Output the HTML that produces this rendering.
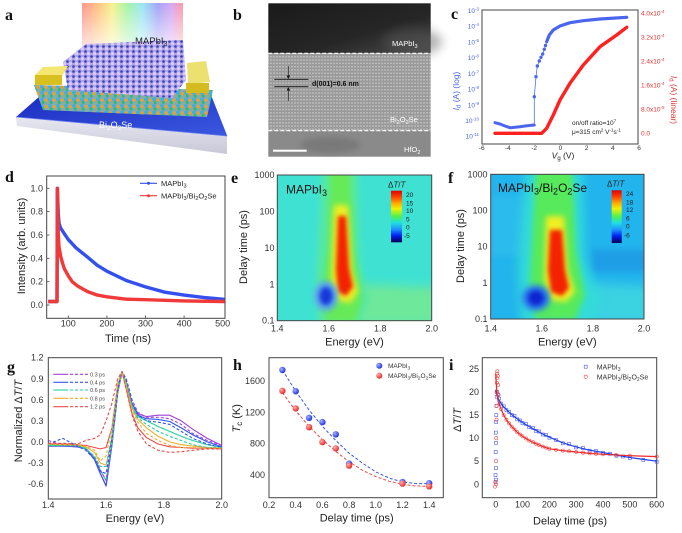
<!DOCTYPE html>
<html><head><meta charset="utf-8"><style>
html,body{margin:0;padding:0;background:#fff;}
svg{display:block;font-family:"Liberation Sans",Arial,sans-serif;}
.lt{font-family:"Liberation Serif",serif;font-weight:bold;font-size:16px;fill:#111;}
.tk{font-size:9px;fill:#333;}
.ti{font-size:11px;fill:#222;}
.fr{fill:none;stroke:#444;stroke-width:1;}
</style></head><body>
<svg width="682" height="533" viewBox="0 0 682 533" xmlns="http://www.w3.org/2000/svg">
<defs>
<linearGradient id="rain" x1="0" y1="0" x2="1" y2="0">
<stop offset="0" stop-color="#ff7a70"/><stop offset="0.15" stop-color="#ffb060"/><stop offset="0.3" stop-color="#f4ee70"/><stop offset="0.45" stop-color="#90f090"/><stop offset="0.6" stop-color="#80e0f0"/><stop offset="0.75" stop-color="#8c8cf4"/><stop offset="0.88" stop-color="#c890f0"/><stop offset="1" stop-color="#ff8090"/></linearGradient>
<linearGradient id="fade" x1="0" y1="0" x2="0" y2="1"><stop offset="0" stop-color="#fff" stop-opacity="0.2"/><stop offset="1" stop-color="#fff" stop-opacity="1"/></linearGradient>
<linearGradient id="blueface" x1="0" y1="0" x2="1" y2="1"><stop offset="0" stop-color="#1c2cc0"/><stop offset="1" stop-color="#3a58e0"/></linearGradient>
<linearGradient id="slab" x1="0" y1="0" x2="0" y2="1"><stop offset="0" stop-color="#e8e8f2"/><stop offset="1" stop-color="#c8c8d8"/></linearGradient>
<pattern id="bos" width="8" height="6.5" patternUnits="userSpaceOnUse"><circle cx="2" cy="1.8" r="1.8" fill="#2eb4f2"/><circle cx="6" cy="2.6" r="1.7" fill="#f0a020"/><circle cx="3.2" cy="5" r="1.5" fill="#1cc07a"/></pattern>
<pattern id="pvk" width="6" height="5" patternUnits="userSpaceOnUse"><circle cx="1.5" cy="1.5" r="1.3" fill="#3040c0"/><circle cx="4.5" cy="3.6" r="1.6" fill="#dcc8fa"/></pattern>
<pattern id="lat" width="3" height="3.3" patternUnits="userSpaceOnUse"><rect width="3" height="3.3" fill="#9a9a9a"/><rect width="2" height="1.3" fill="#bebebe"/></pattern>
<linearGradient id="temtop" x1="0" y1="0" x2="1" y2="1"><stop offset="0" stop-color="#1a1a1a"/><stop offset="0.6" stop-color="#262626"/><stop offset="1" stop-color="#4a4a4a"/></linearGradient>
<linearGradient id="jet" x1="0" y1="0" x2="0" y2="1">
<stop offset="0" stop-color="#e00000"/><stop offset="0.12" stop-color="#ff4000"/><stop offset="0.25" stop-color="#ffb000"/><stop offset="0.35" stop-color="#f0f000"/><stop offset="0.5" stop-color="#50f050"/><stop offset="0.62" stop-color="#20e0e0"/><stop offset="0.75" stop-color="#2090ff"/><stop offset="0.87" stop-color="#0020f0"/><stop offset="1" stop-color="#000050"/></linearGradient>
<radialGradient id="sb" cx="0.35" cy="0.35" r="0.7"><stop offset="0" stop-color="#a8b4ff"/><stop offset="1" stop-color="#1828e0"/></radialGradient>
<radialGradient id="sr" cx="0.35" cy="0.35" r="0.7"><stop offset="0" stop-color="#ffb0b0"/><stop offset="1" stop-color="#e82020"/></radialGradient>
<filter id="b2" x="-50%" y="-50%" width="200%" height="200%"><feGaussianBlur stdDeviation="2.2"/></filter>
<filter id="b3" x="-50%" y="-50%" width="200%" height="200%"><feGaussianBlur stdDeviation="3"/></filter>
<filter id="b5" x="-50%" y="-50%" width="200%" height="200%"><feGaussianBlur stdDeviation="5"/></filter>
<clipPath id="ce"><rect x="277.3" y="175" width="154.4" height="145.7"/></clipPath>
<clipPath id="cf"><rect x="490.7" y="174.3" width="153.3" height="144.7"/></clipPath>
</defs>
<rect width="682" height="533" fill="#fff"/>

<!-- ===== Panel a ===== -->
<text class="lt" x="5" y="20">a</text>
<rect x="82" y="3" width="101" height="60" fill="url(#rain)"/>
<rect x="82" y="3" width="101" height="60" fill="url(#fade)"/>
<polygon points="16,117 227,136 227,154 17,126" fill="url(#slab)"/>
<polygon points="16,117 40,96 210.7,94.3 227.3,136" fill="url(#blueface)"/>
<line x1="16" y1="117" x2="227" y2="136" stroke="#6a80f0" stroke-width="0.8"/>
<polygon points="34,85 213,90 207,117 43,110" fill="#8ca8a8"/>
<polygon points="34,85 213,90 207,117 43,110" fill="url(#bos)"/>
<polygon points="63,62 86,44 183,40 186,80 172,98 68,90" fill="#b0a6e6"/>
<polygon points="63,62 86,44 183,40 186,80 172,98 68,90" fill="url(#pvk)"/>
<polygon points="35,75 43,67 68,66 62,76" fill="#f4e670"/>
<rect x="35" y="75" width="27" height="10" fill="#d8c020"/>
<polygon points="187,63 206,61 210,82 188,84" fill="#ece070"/>
<rect x="186" y="83" width="23" height="10" fill="#d4bc20"/>
<text x="135" y="44" font-size="9.5" fill="#222">MAPbI<tspan font-size="7" dy="2">3</tspan></text>
<text x="99" y="128" font-size="9" fill="#fff">Bi<tspan font-size="6.5" dy="2">2</tspan><tspan dy="-2">O</tspan><tspan font-size="6.5" dy="2">2</tspan><tspan dy="-2">Se</tspan></text>

<!-- ===== Panel b ===== -->
<text class="lt" x="233" y="20">b</text>
<rect x="268.3" y="3.3" width="162.4" height="50" fill="url(#temtop)"/>
<ellipse cx="412" cy="42" rx="30" ry="14" fill="#5a5a5a" opacity="0.45" filter="url(#b5)"/>
<rect x="268.3" y="53.3" width="162.4" height="77.4" fill="url(#lat)"/>
<rect x="268.3" y="130.7" width="162.4" height="26" fill="#8a8a8a"/>
<ellipse cx="330" cy="145" rx="30" ry="8" fill="#6e6e6e" opacity="0.6" filter="url(#b3)"/>
<line x1="268.3" y1="53.3" x2="430.7" y2="53.3" stroke="#fff" stroke-width="1.2" stroke-dasharray="4,2"/>
<line x1="268.3" y1="130.7" x2="430.7" y2="130.7" stroke="#fff" stroke-width="1.2" stroke-dasharray="4,2"/>
<line x1="274.3" y1="79.3" x2="308.3" y2="79.3" stroke="#111" stroke-width="0.9"/>
<line x1="274.3" y1="86.7" x2="308.3" y2="86.7" stroke="#111" stroke-width="0.9"/>
<line x1="288.3" y1="66" x2="288.3" y2="77" stroke="#111" stroke-width="0.6"/>
<polygon points="286.5,75.5 290.1,75.5 288.3,79" fill="#111"/>
<line x1="288.3" y1="89" x2="288.3" y2="101" stroke="#111" stroke-width="0.6"/>
<polygon points="286.5,90.5 290.1,90.5 288.3,87" fill="#111"/>
<text x="312" y="86" font-size="7" fill="#111" font-weight="bold">d(001)=0.6 nm</text>
<text x="392" y="46" font-size="7.5" fill="#fff">MAPbI<tspan font-size="5.5" dy="2">3</tspan></text>
<text x="390" y="122" font-size="7.5" fill="#fff">Bi<tspan font-size="5.5" dy="2">2</tspan><tspan dy="-2">O</tspan><tspan font-size="5.5" dy="2">2</tspan><tspan dy="-2">Se</tspan></text>
<text x="404" y="152" font-size="7.5" fill="#fff">HfO<tspan font-size="5.5" dy="2">2</tspan></text>
<rect x="273" y="149.7" width="33.7" height="2" fill="#fff"/>

<!-- ===== Panel c ===== -->
<text class="lt" x="451" y="19">c</text>
<rect class="fr" x="482" y="10" width="156" height="134"/>
<g font-size="6.5" fill="#4a66e8" text-anchor="end">
<text x="479" y="13">10<tspan font-size="4.5" dy="-2.5">-3</tspan></text>
<text x="479" y="28.7">10<tspan font-size="4.5" dy="-2.5">-4</tspan></text>
<text x="479" y="44.4">10<tspan font-size="4.5" dy="-2.5">-5</tspan></text>
<text x="479" y="60.2">10<tspan font-size="4.5" dy="-2.5">-6</tspan></text>
<text x="479" y="75.9">10<tspan font-size="4.5" dy="-2.5">-7</tspan></text>
<text x="479" y="91.6">10<tspan font-size="4.5" dy="-2.5">-8</tspan></text>
<text x="479" y="107.3">10<tspan font-size="4.5" dy="-2.5">-9</tspan></text>
<text x="479" y="123">10<tspan font-size="4.5" dy="-2.5">-10</tspan></text>
<text x="479" y="138.7">10<tspan font-size="4.5" dy="-2.5">-11</tspan></text>
</g>
<g font-size="6.5" fill="#ee3030">
<text x="641" y="15.5">4.0x10<tspan font-size="4.5" dy="-2.5">-4</tspan></text>
<text x="641" y="39.5">3.2x10<tspan font-size="4.5" dy="-2.5">-4</tspan></text>
<text x="641" y="63.5">2.4x10<tspan font-size="4.5" dy="-2.5">-4</tspan></text>
<text x="641" y="87.5">1.6x10<tspan font-size="4.5" dy="-2.5">-4</tspan></text>
<text x="641" y="111.5">8.0x10<tspan font-size="4.5" dy="-2.5">-5</tspan></text>
<text x="641" y="135.5">0.0</text>
</g>
<g font-size="6.5" fill="#333" text-anchor="middle">
<text x="481.7" y="150">-6</text><text x="507.9" y="150">-4</text><text x="534.1" y="150">-2</text><text x="560.4" y="150">0</text><text x="586.6" y="150">2</text><text x="612.8" y="150">4</text><text x="639" y="150">6</text>
</g>
<text x="563" y="158.5" font-size="8.5" fill="#222" text-anchor="middle"><tspan font-style="italic">V</tspan><tspan font-size="6" dy="1.5">g</tspan><tspan dy="-1.5"> (V)</tspan></text>
<text transform="translate(459,91) rotate(-90)" text-anchor="middle" font-size="8.5" fill="#4a66e8"><tspan font-style="italic">I</tspan><tspan font-size="6" dy="1.5">d</tspan><tspan dy="-1.5"> (A) (log)</tspan></text>
<text transform="translate(671,100) rotate(90)" text-anchor="middle" font-size="8.5" fill="#ee3030"><tspan font-style="italic">I</tspan><tspan font-size="6" dy="1.5">d</tspan><tspan dy="-1.5"> (A) (linear)</tspan></text>
<polyline points="495,133.3 541.7,133.3 546.7,128.3 553.3,115 560,100 570,83.3 583.3,65 600,46.7 616.7,35 626.7,27.3" fill="none" stroke="#ff2020" stroke-width="3.4" stroke-linejoin="round" stroke-linecap="round"/>
<polyline points="495,122.7 500,124 505,126 510,127.7 515,127.3 520,126.7 525,126 531.7,125.3 534.3,125 534.3,96.7 536,76.7 537.3,66 539.3,61 541,57.3 542.7,54 544.3,49.3 546.7,41.7 549.3,35 553.3,30 560,26 570,22.7 583.3,20.7 600,19 626.7,17.3" fill="none" stroke="#5070f0" stroke-width="0.8"/>
<polyline points="495,122.7 500,124 505,126 510,127.7 515,127.3 520,126.7 525,126 531.7,125.3 534.3,125" fill="none" stroke="#4a66ee" stroke-width="3" stroke-linejoin="round" stroke-linecap="round"/>
<polyline points="546.7,41.7 549.3,35 553.3,30 560,26 570,22.7 583.3,20.7 600,19 626.7,17.3" fill="none" stroke="#4a66ee" stroke-width="3.2" stroke-linejoin="round" stroke-linecap="round"/>
<g fill="#4a66ee"><circle cx="534.3" cy="96.7" r="1.7"/><circle cx="536" cy="76.7" r="1.7"/><circle cx="537.3" cy="66" r="1.7"/><circle cx="539.3" cy="61" r="1.7"/><circle cx="541" cy="57.3" r="1.7"/><circle cx="542.7" cy="54" r="1.7"/><circle cx="544.3" cy="49.3" r="1.7"/><circle cx="545.5" cy="45.5" r="1.7"/></g>
<text x="572" y="125" font-size="6.5" fill="#222">on/off ratio=10<tspan font-size="4.5" dy="-2.5">7</tspan></text>
<text x="572" y="134" font-size="6.5" fill="#222">μ=315 cm<tspan font-size="4.5" dy="-2.5">2</tspan><tspan dy="2.5"> V</tspan><tspan font-size="4.5" dy="-2.5">-1</tspan><tspan dy="2.5">s</tspan><tspan font-size="4.5" dy="-2.5">-1</tspan></text>

<!-- ===== Panel d ===== -->
<text class="lt" x="5" y="182">d</text>
<rect class="fr" x="46.7" y="176" width="178.3" height="142.3"/>
<g class="tk" text-anchor="end">
<text x="43" y="308">0.0</text><text x="43" y="284.7">0.2</text><text x="43" y="261.3">0.4</text><text x="43" y="238">0.6</text><text x="43" y="214.6">0.8</text><text x="43" y="191.3">1.0</text>
</g>
<g class="tk" text-anchor="middle">
<text x="68.3" y="326.5">100</text><text x="106.9" y="326.5">200</text><text x="145.5" y="326.5">300</text><text x="184.1" y="326.5">400</text><text x="222.7" y="326.5">500</text>
</g>
<g stroke="#444" stroke-width="0.8">
<line x1="68.3" y1="318.3" x2="68.3" y2="315.5"/><line x1="106.9" y1="318.3" x2="106.9" y2="315.5"/><line x1="145.5" y1="318.3" x2="145.5" y2="315.5"/><line x1="184.1" y1="318.3" x2="184.1" y2="315.5"/>
<line x1="46.7" y1="305" x2="49.5" y2="305"/><line x1="46.7" y1="281.7" x2="49.5" y2="281.7"/><line x1="46.7" y1="258.3" x2="49.5" y2="258.3"/><line x1="46.7" y1="235" x2="49.5" y2="235"/><line x1="46.7" y1="211.6" x2="49.5" y2="211.6"/><line x1="46.7" y1="188.3" x2="49.5" y2="188.3"/>
</g>
<text class="ti" x="128" y="342" text-anchor="middle">Time (ns)</text>
<text class="ti" transform="translate(25,246) rotate(-90)" text-anchor="middle">Intensity (arb. units)</text>
<polyline points="48.2,301.5 57,301.5 57.3,188.3 57.9,202.3 58.3,214 59,223.3 60.6,228 64.4,233.8 68.3,239.6 76,247.8 87.6,257.2 97.3,265.3 106.9,271.2 126.2,280.5 145.5,286.9 164.8,292.2 184.1,295.1 203.4,297.4 222.7,299.2 224.6,299.4" fill="none" stroke="#3350ee" stroke-width="3.4" stroke-linejoin="round"/>
<polyline points="48.2,301.5 57,301.5 57.5,188.3 57.9,217.5 58.3,235 59,246.7 60.6,256 62.5,263 64.4,268.8 68.3,275.8 72.2,281.7 78,286.3 87.6,291.6 97.3,295.1 106.9,296.8 126.2,299.2 145.5,299.7 184.1,300.9 222.7,301.5 224.6,301.5" fill="none" stroke="#f03a3a" stroke-width="3.4" stroke-linejoin="round"/>
<line x1="140" y1="183.3" x2="157" y2="183.3" stroke="#3350ee" stroke-width="1.2"/><circle cx="148.5" cy="183.3" r="1.5" fill="#3350ee"/>
<line x1="140" y1="195.7" x2="157" y2="195.7" stroke="#f03a3a" stroke-width="1.2"/><circle cx="148.5" cy="195.7" r="1.5" fill="#f03a3a"/>
<text x="161" y="186" font-size="7.5" fill="#222">MAPbI<tspan font-size="5.5" dy="1.5">3</tspan></text>
<text x="161" y="198.4" font-size="7.5" fill="#222">MAPbI<tspan font-size="5.5" dy="1.5">3</tspan><tspan dy="-1.5">/Bi</tspan><tspan font-size="5.5" dy="1.5">2</tspan><tspan dy="-1.5">O</tspan><tspan font-size="5.5" dy="1.5">2</tspan><tspan dy="-1.5">Se</tspan></text>

<!-- ===== Panel e ===== -->
<text class="lt" x="231" y="183">e</text>
<g clip-path="url(#ce)">
<rect x="277.3" y="175" width="154.4" height="145.7" fill="#3fe2d2"/>
<polygon points="345,284 440,288 440,325 345,325" fill="#6ee89a" filter="url(#b5)"/>
<polygon points="322,170 358,170 360,260 368,300 360,325 318,325 316,280" fill="#55e8a4" filter="url(#b3)"/>
<polygon points="330,170 350,170 354,250 362,300 356,322 326,322 322,290 328,250" fill="#66ea58" filter="url(#b3)"/>
<polygon points="334,205 348,205 352,270 358,292 350,303 336,300 331,285" fill="#f0ee20" filter="url(#b3)"/>
<polygon points="338,216 346,216 349,268 353,287 346,296 338,292 336,270" fill="#f42400" filter="url(#b2)"/>
<ellipse cx="326" cy="296" rx="12" ry="15" fill="#5aa4f2" filter="url(#b3)"/>
<ellipse cx="326" cy="296" rx="6.5" ry="9" fill="#1438d8" filter="url(#b2)"/>
</g>
<rect class="fr" x="277.3" y="175" width="154.4" height="145.7"/>
<rect x="391" y="190.7" width="11" height="51.6" fill="url(#jet)"/>
<text x="388" y="187.5" font-size="8" fill="#222">Δ<tspan font-style="italic">T</tspan>/<tspan font-style="italic">T</tspan></text>
<g font-size="6.5" fill="#222">
<text x="406" y="197">20</text><text x="406" y="205.3">15</text><text x="406" y="213">10</text><text x="406" y="221.3">5</text><text x="406" y="229.6">0</text><text x="404" y="238">-5</text>
</g>
<text x="286" y="193.5" font-size="12" fill="#111">MAPbI<tspan font-size="9" dy="2.5">3</tspan></text>
<g class="tk" text-anchor="end">
<text x="274.5" y="178">1000</text><text x="274.5" y="214.4">100</text><text x="274.5" y="250.8">10</text><text x="274.5" y="287.3">1</text><text x="274.5" y="323.7">0.1</text>
</g>
<g class="tk" text-anchor="middle">
<text x="277.3" y="331.5">1.4</text><text x="328.8" y="331.5">1.6</text><text x="380.2" y="331.5">1.8</text><text x="431.7" y="331.5">2.0</text>
</g>
<text class="ti" x="354.5" y="345.5" text-anchor="middle">Energy (eV)</text>
<text class="ti" transform="translate(247,247) rotate(-90)" text-anchor="middle">Delay time (ps)</text>

<!-- ===== Panel f ===== -->
<text class="lt" x="448" y="183">f</text>
<g clip-path="url(#cf)">
<rect x="490.7" y="174.3" width="153.3" height="144.7" fill="#22b4ec"/>
<rect x="492" y="196" width="38" height="60" fill="#3cc6f0" opacity="0.4" filter="url(#b3)"/>
<rect x="592" y="250" width="60" height="22" fill="#1a90e2" opacity="0.6" filter="url(#b3)"/>
<polygon points="560,282 650,286 650,325 560,325" fill="#3ad2e2" filter="url(#b5)"/>
<polygon points="526,170 582,170 585,260 600,300 590,325 522,325 518,270" fill="#32dcd8" filter="url(#b5)"/>
<polygon points="536,170 572,170 576,250 585,295 575,320 535,320 530,280" fill="#56ea5c" filter="url(#b3)"/>
<polygon points="546,216 564,216 568,270 575,292 566,302 550,300 544,280" fill="#f0ee20" filter="url(#b3)"/>
<polygon points="550,230 562,230 565,270 569,288 562,296 551,292 548,270" fill="#f42400" filter="url(#b2)"/>
<ellipse cx="536" cy="298" rx="14" ry="13" fill="#2a78f0" filter="url(#b3)"/>
<ellipse cx="536" cy="298" rx="8" ry="7.5" fill="#0a28d0" filter="url(#b2)"/>
</g>
<rect class="fr" x="490.7" y="174.3" width="153.3" height="144.7"/>
<rect x="611.7" y="190.3" width="10" height="52.7" fill="url(#jet)"/>
<text x="607" y="186.5" font-size="8" fill="#222">Δ<tspan font-style="italic">T</tspan>/<tspan font-style="italic">T</tspan></text>
<g font-size="6.5" fill="#222">
<text x="626" y="196">24</text><text x="626" y="204.3">18</text><text x="626" y="212">12</text><text x="626" y="220.6">6</text><text x="626" y="228.6">0</text><text x="624" y="237.3">-6</text>
</g>
<text x="498" y="192" font-size="12" fill="#111">MAPbI<tspan font-size="9" dy="2.5">3</tspan><tspan dy="-2.5">/Bi</tspan><tspan font-size="9" dy="2.5">2</tspan><tspan dy="-2.5">O</tspan><tspan font-size="9" dy="2.5">2</tspan><tspan dy="-2.5">Se</tspan></text>
<g class="tk" text-anchor="end">
<text x="487.5" y="177.3">1000</text><text x="487.5" y="213.5">100</text><text x="487.5" y="249.6">10</text><text x="487.5" y="285.8">1</text><text x="487.5" y="322">0.1</text>
</g>
<g class="tk" text-anchor="middle">
<text x="490.7" y="331.5">1.4</text><text x="541.8" y="331.5">1.6</text><text x="592.9" y="331.5">1.8</text><text x="644" y="331.5">2.0</text>
</g>
<text class="ti" x="567.3" y="345.5" text-anchor="middle">Energy (eV)</text>
<text class="ti" transform="translate(464,246) rotate(-90)" text-anchor="middle">Delay time (ps)</text>

<!-- ===== Panel g ===== -->
<text class="lt" x="7" y="372">g</text>
<rect class="fr" x="48.3" y="357.7" width="173.4" height="141.3"/>
<g class="tk" text-anchor="end">
<text x="43.5" y="360.7">1.2</text><text x="43.5" y="381.8">0.9</text><text x="43.5" y="402.8">0.6</text><text x="43.5" y="423.8">0.3</text><text x="43.5" y="444.9">0.0</text><text x="43.5" y="466">-0.3</text><text x="43.5" y="487">-0.6</text>
</g>
<g class="tk" text-anchor="middle">
<text x="48.3" y="508">1.4</text><text x="106.1" y="508">1.6</text><text x="163.9" y="508">1.8</text><text x="221.7" y="508">2.0</text>
</g>
<text class="ti" x="135" y="522" text-anchor="middle">Energy (eV)</text>
<text class="ti" transform="translate(22,421) rotate(-90)" text-anchor="middle">Normalized Δ<tspan font-style="italic">T</tspan>/<tspan font-style="italic">T</tspan></text>
<g fill="none" stroke-width="1.1" stroke-linejoin="round">
<polyline stroke="#a040dc" points="48.3,446.1 62.8,446.1 77.2,446.8 85.9,448.9 94.5,459.5 100.3,473.5 106.1,485.4 111.9,445.4 117.7,392.8 122,371.7 126.3,382.2 132.1,403.3 137.9,413.8 146.6,416.6 158.1,415.2 169.7,415.2 181.2,420.8 192.8,429.3 207.3,438.4 221.7,445.4"/>
<polyline stroke="#3355ee" points="48.3,446.1 62.8,446.1 77.2,446.8 85.9,448.9 94.5,459.5 100.3,473.5 106.1,486.1 111.9,445.4 117.7,392.8 122,371.7 126.3,382.9 132.1,404.7 137.9,415.2 146.6,418.7 158.1,419.4 169.7,421.5 181.2,427.9 192.8,434.9 207.3,441.9 221.7,446.8"/>
<polyline stroke="#26d0a0" points="48.3,445.4 62.8,445.4 77.2,446.1 85.9,448.2 94.5,457.3 100.3,470 106.1,480.5 111.9,443.3 117.7,391.4 122,371.7 126.3,383.6 132.1,405.4 137.9,416.6 146.6,420.8 158.1,426.5 169.7,431.4 181.2,436.3 192.8,440.5 207.3,444.7 221.7,447.5"/>
<polyline stroke="#eeae30" points="48.3,444.7 62.8,444.7 77.2,445.4 85.9,446.8 94.5,452.4 100.3,463 106.1,465.1 111.9,438.4 117.7,389.3 122,371.7 126.3,385.7 132.1,408.2 137.9,419.4 146.6,427.9 158.1,436.3 169.7,441.9 181.2,444.7 192.8,446.1 207.3,447.5 221.7,448.2"/>
<polyline stroke="#f04848" points="48.3,444 62.8,444 77.2,444.7 85.9,445.4 94.5,447.5 100.3,448.9 106.1,447.5 111.9,427.9 117.7,385.7 122,371.7 126.3,389.3 132.1,413.8 137.9,427.9 146.6,437.7 158.1,444 169.7,446.8 181.2,447.5 192.8,448.2 207.3,448.2 221.7,448.9"/>
</g>
<g fill="none" stroke-width="1.1" stroke-dasharray="3,2" stroke-linejoin="round">
<polyline stroke="#a040dc" points="48.3,440.5 62.8,445.4 77.2,446.1 85.9,448.9 94.5,457.3 100.3,470 106.1,480.5 111.9,441.9 117.7,391.4 122,371.7 126.3,378.7 132.1,399.8 137.9,412.4 146.6,417.3 158.1,417.3 169.7,418.7 181.2,424.4 192.8,433.5 207.3,440.5 221.7,445.4"/>
<polyline stroke="#3355ee" points="48.3,444 62.8,438.4 77.2,446.1 85.9,450.3 94.5,459.5 100.3,471.4 106.1,473.5 111.9,438.4 117.7,389.3 122,371.7 126.3,380.1 132.1,403.3 137.9,415.2 146.6,420.8 158.1,422.2 169.7,424.4 181.2,431.4 192.8,438.4 207.3,444 221.7,447.5"/>
<polyline stroke="#26d0a0" points="48.3,444.7 62.8,445.4 77.2,445.4 85.9,448.9 94.5,456 100.3,466.5 106.1,466.5 111.9,434.9 117.7,385.7 122,371.7 126.3,382.2 132.1,406.8 137.9,418 146.6,424.4 158.1,431.4 169.7,436.3 181.2,440.5 192.8,444.7 207.3,447.5 221.7,447.5"/>
<polyline stroke="#eeae30" points="48.3,444 62.8,444.7 77.2,444.7 85.9,446.1 94.5,450.3 100.3,460.9 106.1,456 111.9,427.9 117.7,382.2 122,371.7 126.3,387.1 132.1,410.3 137.9,422.2 146.6,433.5 158.1,440.5 169.7,445.4 181.2,447.5 192.8,447.5 207.3,448.2 221.7,448.2"/>
<polyline stroke="#f04848" points="48.3,443.3 62.8,443.3 77.2,444 85.9,440.5 94.5,438.4 100.3,434.9 106.1,420.8 111.9,403.3 117.7,378.7 122,371.7 126.3,389.3 132.1,415.2 137.9,431.4 146.6,444 158.1,450.3 169.7,452.4 181.2,451.7 192.8,450.3 207.3,448.9 221.7,448.9"/>
</g>
<g stroke-width="1.1">
<line x1="53.3" y1="374.3" x2="68.3" y2="374.3" stroke="#a040dc"/><line x1="70" y1="374.3" x2="88.3" y2="374.3" stroke="#a040dc" stroke-dasharray="3,2"/>
<line x1="53.3" y1="382.3" x2="68.3" y2="382.3" stroke="#3355ee"/><line x1="70" y1="382.3" x2="88.3" y2="382.3" stroke="#3355ee" stroke-dasharray="3,2"/>
<line x1="53.3" y1="390" x2="68.3" y2="390" stroke="#26d0a0"/><line x1="70" y1="390" x2="88.3" y2="390" stroke="#26d0a0" stroke-dasharray="3,2"/>
<line x1="53.3" y1="398.3" x2="68.3" y2="398.3" stroke="#eeae30"/><line x1="70" y1="398.3" x2="88.3" y2="398.3" stroke="#eeae30" stroke-dasharray="3,2"/>
<line x1="53.3" y1="406.7" x2="68.3" y2="406.7" stroke="#f04848"/><line x1="70" y1="406.7" x2="88.3" y2="406.7" stroke="#f04848" stroke-dasharray="3,2"/>
</g>
<g font-size="5.5" fill="#444">
<text x="90" y="376.3">0.3 ps</text><text x="90" y="384.3">0.4 ps</text><text x="90" y="392">0.6 ps</text><text x="90" y="400.3">0.8 ps</text><text x="90" y="408.7">1.2 ps</text>
</g>

<!-- ===== Panel h ===== -->
<text class="lt" x="233" y="370">h</text>
<rect class="fr" x="269" y="357.7" width="174.3" height="140"/>
<g class="tk" text-anchor="end">
<text x="265" y="384">1600</text><text x="265" y="415.3">1200</text><text x="265" y="446.7">800</text><text x="265" y="478">400</text>
</g>
<g class="tk" text-anchor="middle">
<text x="269" y="508">0.2</text><text x="295.7" y="508">0.4</text><text x="322.4" y="508">0.6</text><text x="349.1" y="508">0.8</text><text x="375.8" y="508">1.0</text><text x="402.5" y="508">1.2</text><text x="429.2" y="508">1.4</text>
</g>
<text class="ti" x="356.7" y="521.5" text-anchor="middle">Delay time (ps)</text>
<text class="ti" transform="translate(240,418.3) rotate(-90)" text-anchor="middle"><tspan font-style="italic">T</tspan><tspan font-size="8" dy="2">c</tspan><tspan dy="-2"> (K)</tspan></text>
<polyline points="282.4,370 295.7,391.2 309.1,410 322.4,426.4 335.8,440.5 349.1,453.1 362.5,463.2 375.8,471.9 389.2,478.1 402.5,482 415.9,483.6 429.2,483.6" fill="none" stroke="#3355ee" stroke-width="1" stroke-dasharray="3,2"/>
<polyline points="282.4,392.7 295.7,410.8 309.1,426.4 322.4,439.7 335.8,451.5 349.1,461.7 362.5,470.3 375.8,476.6 389.2,481.3 402.5,484.4 415.9,486 429.2,486.4" fill="none" stroke="#f04848" stroke-width="1" stroke-dasharray="3,2"/>
<g fill="url(#sb)">
<circle cx="282.4" cy="370" r="3.2"/><circle cx="295.7" cy="391.2" r="3.2"/><circle cx="309.1" cy="417.8" r="3.2"/><circle cx="322.4" cy="422.1" r="3.2"/><circle cx="335.8" cy="434.3" r="3.2"/><circle cx="349.1" cy="463.6" r="3.2"/><circle cx="402.5" cy="482" r="3.2"/><circle cx="429.2" cy="483.2" r="3.2"/>
<circle cx="379.3" cy="365.7" r="3"/>
</g>
<g fill="url(#sr)">
<circle cx="282.4" cy="390.8" r="3.2"/><circle cx="295.7" cy="408.4" r="3.2"/><circle cx="309.1" cy="427.2" r="3.2"/><circle cx="322.4" cy="442.1" r="3.2"/><circle cx="335.8" cy="448.4" r="3.2"/><circle cx="349.1" cy="465.6" r="3.2"/><circle cx="402.5" cy="483.6" r="3.2"/><circle cx="429.2" cy="486.4" r="3.2"/>
<circle cx="379.3" cy="375.7" r="3"/>
</g>
<text x="388" y="368" font-size="6.5" fill="#333">MAPbI<tspan font-size="4.8" dy="1.5">3</tspan></text>
<text x="388" y="378" font-size="6.5" fill="#333">MAPbI<tspan font-size="4.8" dy="1.5">3</tspan><tspan dy="-1.5">/Bi</tspan><tspan font-size="4.8" dy="1.5">2</tspan><tspan dy="-1.5">O</tspan><tspan font-size="4.8" dy="1.5">2</tspan><tspan dy="-1.5">Se</tspan></text>

<!-- ===== Panel i ===== -->
<text class="lt" x="449" y="370">i</text>
<rect class="fr" x="482.3" y="357.7" width="174.4" height="140"/>
<g class="tk" text-anchor="end">
<text x="479" y="487.3">0</text><text x="479" y="464.2">5</text><text x="479" y="441.2">10</text><text x="479" y="418.1">15</text><text x="479" y="395">20</text><text x="479" y="372">25</text>
</g>
<g class="tk" text-anchor="middle">
<text x="495.7" y="507.5">0</text><text x="522.5" y="507.5">100</text><text x="549.4" y="507.5">200</text><text x="576.2" y="507.5">300</text><text x="603" y="507.5">400</text><text x="629.9" y="507.5">500</text><text x="656.7" y="507.5">600</text>
</g>
<text class="ti" x="570" y="524.5" text-anchor="middle">Delay time (ps)</text>
<text class="ti" transform="translate(461,420) rotate(-90)" text-anchor="middle">Δ<tspan font-style="italic">T</tspan>/<tspan font-style="italic">T</tspan></text>
<g fill="none" stroke="#4a5ae8" stroke-width="0.6">
<rect x="494" y="480.5" width="3" height="3"/><rect x="494.5" y="478.2" width="3" height="3"/><rect x="494" y="473.6" width="3" height="3"/><rect x="494.5" y="466.6" width="3" height="3"/><rect x="494.2" y="450.5" width="3" height="3"/><rect x="494.5" y="441.3" width="3" height="3"/><rect x="494.3" y="431.1" width="3" height="3"/><rect x="494.6" y="420.5" width="3" height="3"/><rect x="494.8" y="413.6" width="3" height="3"/><rect x="495" y="404.4" width="3" height="3"/><rect x="495.2" y="395.2" width="3" height="3"/><rect x="495.5" y="390.5" width="3" height="3"/><rect x="496.5" y="393" width="3" height="3"/><rect x="497.5" y="397" width="3" height="3"/>
<rect x="499.6" y="402.1" width="3" height="3"/><rect x="502.2" y="404.8" width="3" height="3"/><rect x="504.9" y="408.6" width="3" height="3"/><rect x="507.6" y="410.3" width="3" height="3"/><rect x="510.3" y="413.6" width="3" height="3"/><rect x="513" y="414.5" width="3" height="3"/><rect x="515.7" y="417.8" width="3" height="3"/><rect x="518.5" y="419" width="3" height="3"/><rect x="521" y="421.5" width="3" height="3"/><rect x="524.5" y="422.5" width="3" height="3"/><rect x="527.7" y="425.6" width="3" height="3"/><rect x="531.5" y="426.5" width="3" height="3"/><rect x="534.4" y="429.3" width="3" height="3"/><rect x="537.5" y="430" width="3" height="3"/><rect x="541.2" y="433" width="3" height="3"/><rect x="544.5" y="433.5" width="3" height="3"/><rect x="547.9" y="436.2" width="3" height="3"/><rect x="554.5" y="438.5" width="3" height="3"/><rect x="561.3" y="441.8" width="3" height="3"/><rect x="567.5" y="442.5" width="3" height="3"/><rect x="574.7" y="445.9" width="3" height="3"/><rect x="581.5" y="446.5" width="3" height="3"/><rect x="588.1" y="449.2" width="3" height="3"/><rect x="594.5" y="449.5" width="3" height="3"/><rect x="601.5" y="451.5" width="3" height="3"/><rect x="608.5" y="452.3" width="3" height="3"/><rect x="614.9" y="454.2" width="3" height="3"/><rect x="621.5" y="455" width="3" height="3"/><rect x="628.4" y="456.5" width="3" height="3"/><rect x="641.8" y="458.4" width="3" height="3"/><rect x="655.2" y="460.2" width="3" height="3"/>
<rect x="584.2" y="365.2" width="3" height="3"/>
</g>
<g fill="none" stroke="#f04848" stroke-width="0.6">
<circle cx="495" cy="486.6" r="1.6"/><circle cx="496" cy="484.3" r="1.6"/><circle cx="495.5" cy="482" r="1.6"/><circle cx="496" cy="461.2" r="1.6"/><circle cx="496.3" cy="438.2" r="1.6"/><circle cx="496.5" cy="419.7" r="1.6"/><circle cx="496.5" cy="405.9" r="1.6"/><circle cx="496.5" cy="392" r="1.6"/><circle cx="496.8" cy="382.8" r="1.6"/><circle cx="497" cy="378.2" r="1.6"/><circle cx="497" cy="373.6" r="1.6"/><circle cx="497.3" cy="371.3" r="1.6"/><circle cx="497.8" cy="376" r="1.6"/><circle cx="498.2" cy="385" r="1.6"/><circle cx="498.5" cy="395" r="1.6"/>
<circle cx="499.5" cy="404" r="1.6"/><circle cx="501.1" cy="409.1" r="1.6"/><circle cx="503.7" cy="415.1" r="1.6"/><circle cx="506.4" cy="419.7" r="1.6"/><circle cx="509.1" cy="423.4" r="1.6"/><circle cx="511.8" cy="426.6" r="1.6"/><circle cx="514.5" cy="429.5" r="1.6"/><circle cx="517.2" cy="432.2" r="1.6"/><circle cx="520" cy="434.5" r="1.6"/><circle cx="522.5" cy="436.3" r="1.6"/><circle cx="526" cy="438.5" r="1.6"/><circle cx="529.2" cy="440.5" r="1.6"/><circle cx="533" cy="442.2" r="1.6"/><circle cx="535.9" cy="443.7" r="1.6"/><circle cx="539" cy="445" r="1.6"/><circle cx="542.7" cy="446.5" r="1.6"/><circle cx="546" cy="447.6" r="1.6"/><circle cx="549.4" cy="448.8" r="1.6"/><circle cx="556" cy="449.8" r="1.6"/><circle cx="562.8" cy="450.6" r="1.6"/><circle cx="569" cy="451.3" r="1.6"/><circle cx="576.2" cy="452" r="1.6"/><circle cx="583" cy="452.7" r="1.6"/><circle cx="589.6" cy="453.4" r="1.6"/><circle cx="596" cy="453.9" r="1.6"/><circle cx="603" cy="454.3" r="1.6"/><circle cx="616" cy="455" r="1.6"/><circle cx="629.9" cy="455.7" r="1.6"/><circle cx="656.7" cy="456.6" r="1.6"/>
<circle cx="585.7" cy="376.7" r="1.6"/>
</g>
<polyline points="495.7,389.7 497,394.3 498.4,399 501.1,403.6 503.7,406.8 506.4,409.6 509.1,412.3 511.8,414.6 517.2,418.8 522.5,422.5 529.2,426.6 535.9,430.3 542.7,434 549.4,437.2 562.8,442.8 576.2,446.9 589.6,450.2 603,452.5 616.4,455.2 629.9,457.5 643.3,459.4 656.7,461.2" fill="none" stroke="#2040e8" stroke-width="1.2"/>
<polyline points="495.7,373.6 496.5,387.4 497,394.3 498.4,402.2 501.1,409.1 503.7,415.1 506.4,419.7 509.1,423.4 511.8,426.6 517.2,432.2 522.5,436.3 529.2,440.5 535.9,443.7 542.7,446.5 549.4,448.8 562.8,450.6 576.2,452 589.6,453.4 603,454.3 629.9,455.7 656.7,456.6" fill="none" stroke="#f02828" stroke-width="1.2"/>
<text x="596.7" y="369.3" font-size="7" fill="#333">MAPbI<tspan font-size="5" dy="1.5">3</tspan></text>
<text x="596.7" y="379.3" font-size="7" fill="#333">MAPbI<tspan font-size="5" dy="1.5">3</tspan><tspan dy="-1.5">/Bi</tspan><tspan font-size="5" dy="1.5">2</tspan><tspan dy="-1.5">O</tspan><tspan font-size="5" dy="1.5">2</tspan><tspan dy="-1.5">Se</tspan></text>
</svg>
</body></html>
